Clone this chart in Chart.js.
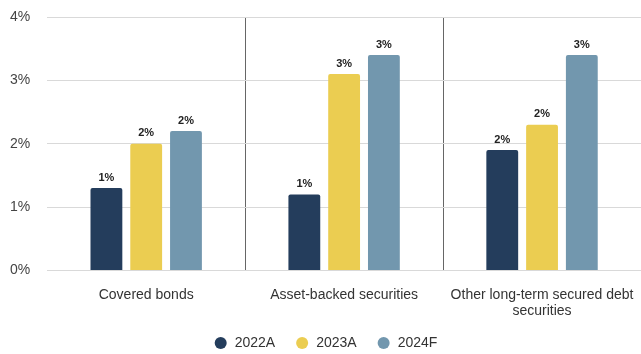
<!DOCTYPE html>
<html>
<head>
<meta charset="utf-8">
<script src="https://cdn.jsdelivr.net/npm/chart.js@4/dist/chart.umd.min.js"></script>
<style>
html,body{margin:0;padding:0;background:#fff;}
#wrap{width:641px;height:354px;}
</style>
</head>
<body>
<div id="wrap"><canvas id="c"></canvas></div>
<script>
const categories = ["Covered bonds", "Asset-backed securities", ["Other long-term secured debt", "securities"]];
const seriesNames = ["2022A", "2023A", "2024F"];
const values2022A = [1.3, 1.2, 1.9];
const values2023A = [2.0, 3.1, 2.3];
const values2024F = [2.2, 3.4, 3.4];
const yTicks = [0, 1, 2, 3, 4];
const colors = ["#243d5c", "#ebcd51", "#7297ae"];
const FONT = '"Liberation Sans", Arial, sans-serif';

const labelPlugin = {
  id: 'barLabels',
  afterDatasetsDraw(chart) {
    const ctx = chart.ctx;
    ctx.save();
    ctx.font = 'bold 11px ' + FONT;
    ctx.fillStyle = '#222';
    ctx.textAlign = 'center';
    ctx.textBaseline = 'bottom';
    chart.data.datasets.forEach((ds, i) => {
      const meta = chart.getDatasetMeta(i);
      meta.data.forEach((bar, j) => {
        ctx.fillText(Math.round(ds.data[j]) + '%', bar.x, bar.y - 5);
      });
    });
    ctx.restore();
  }
};

const allVals = [values2022A, values2023A, values2024F];
new Chart(document.getElementById('c'), {
  type: 'bar',
  data: {
    labels: categories,
    datasets: seriesNames.map((n, i) => ({
      label: n,
      data: allVals[i],
      backgroundColor: colors[i],
      borderRadius: 2,
      borderSkipped: 'bottom',
      categoryPercentage: 0.603,
      barPercentage: 0.8
    }))
  },
  options: {
    responsive: true,
    maintainAspectRatio: false,
    animation: false,
    layout: { padding: { left: 10, right: 0, top: 17, bottom: -6 } },
    plugins: {
      tooltip: { enabled: false },
      legend: {
        position: 'bottom',
        labels: {
          usePointStyle: true,
          pointStyle: 'circle',
          boxWidth: 18,
          boxHeight: 8.5,
          padding: 20,
          color: '#333',
          font: { family: FONT, size: 14 }
        }
      }
    },
    scales: {
      x: {
        afterFit: (s) => { s.paddingLeft = 0; s.paddingRight = 0; s.height -= 20; },
        grid: {
          offset: true,
          drawTicks: false,
          color: (c) => (c.index === 1 || c.index === 2) ? '#666' : 'rgba(0,0,0,0)',
          lineWidth: 1
        },
        border: { display: false },
        ticks: {
          padding: 16,
          color: '#333',
          maxRotation: 0,
          font: { family: FONT, size: 14 }
        }
      },
      y: {
        min: 0,
        max: 4,
        afterFit: (s) => { s.paddingTop = 0; s.paddingBottom = 0; s.width -= 17; },
        afterBuildTicks: (axis) => { axis.ticks = yTicks.map(v => ({ value: v })); },
        grid: { drawTicks: false, color: '#d9d9d9', lineWidth: 1 },
        border: { display: false },
        ticks: {
          padding: 17,
          color: '#444',
          callback: (v) => v + '%',
          font: { family: FONT, size: 14 }
        }
      }
    }
  },
  plugins: [labelPlugin]
});
</script>
</body>
</html>
